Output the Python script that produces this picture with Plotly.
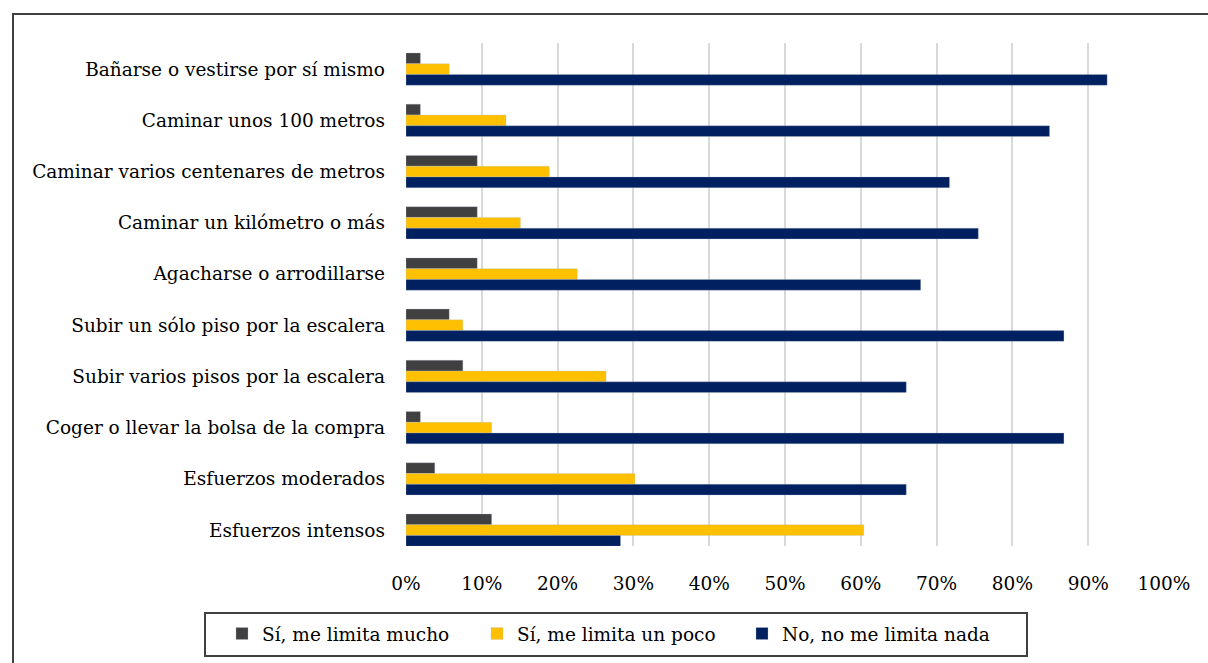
import plotly.graph_objects as go

categories = [
    "Bañarse o vestirse por sí mismo",
    "Caminar unos 100 metros",
    "Caminar varios centenares de metros",
    "Caminar un kilómetro o más",
    "Agacharse o arrodillarse",
    "Subir un sólo piso por la escalera",
    "Subir varios pisos por la escalera",
    "Coger o llevar la bolsa de la compra",
    "Esfuerzos moderados",
    "Esfuerzos intensos",
]
mucho = [1.9, 1.9, 9.4, 9.4, 9.4, 5.7, 7.5, 1.9, 3.8, 11.3]
poco = [5.7, 13.2, 18.9, 15.1, 22.6, 7.5, 26.4, 11.3, 30.2, 60.4]
nada = [92.5, 84.9, 71.7, 75.5, 67.9, 86.8, 66.0, 86.8, 66.0, 28.3]
series_names = ["Sí, me limita mucho", "Sí, me limita un poco", "No, no me limita nada"]
colors = ["#404040", "#FFC000", "#002060"]
x_ticks = [0, 10, 20, 30, 40, 50, 60, 70, 80, 90, 100]

FONT = "DejaVu Serif"
FS = 18.5

L, R, T, B = 406, 44, 43, 117
W, H = 1208, 663
pw = W - L - R
ph = H - T - B

def px_x(p):
    return (p - L) / pw

def px_y(p):
    return (H - B - p) / ph

legend_ids = ["legend2", "legend3", "legend4"]
legend_left_px = [222, 477, 742]

fig = go.Figure()
for name, vals, col, lid in zip(series_names, [mucho, poco, nada], colors, legend_ids):
    fig.add_trace(go.Bar(
        y=categories, x=vals, name=name, orientation="h", legend=lid,
        marker=dict(color=col, line=dict(color="rgba(180,190,210,0.6)", width=0.5)),
    ))

legend_common = dict(
    orientation="h", xanchor="left", y=px_y(634), yanchor="middle",
    borderwidth=0, bgcolor="rgba(0,0,0,0)",
    font=dict(family=FONT, size=FS, color="black"),
)

fig.update_layout(
    width=W, height=H,
    margin=dict(l=L, r=R, t=T, b=B, autoexpand=False),
    paper_bgcolor="white", plot_bgcolor="white",
    barmode="group", bargap=0.37, bargroupgap=0,
    font=dict(family=FONT, size=FS, color="black"),
    xaxis=dict(
        range=[0, 100], tickvals=x_ticks, ticktext=[f"{v}%" for v in x_ticks],
        showgrid=True, gridcolor="#D9D9D9", gridwidth=2,
        zeroline=False, showline=False, ticks="", ticklabelstandoff=24,
        tickfont=dict(family=FONT, size=FS, color="black"), automargin=False,
    ),
    yaxis=dict(
        range=[9.31, -0.51], showgrid=False, zeroline=False, showline=False,
        ticks="", ticklabelstandoff=20, automargin=False,
        tickfont=dict(family=FONT, size=FS, color="black"),
    ),
    legend2=dict(legend_common, x=px_x(legend_left_px[0])),
    legend3=dict(legend_common, x=px_x(legend_left_px[1])),
    legend4=dict(legend_common, x=px_x(legend_left_px[2])),
    shapes=[
        dict(type="rect", xref="paper", yref="paper",
             x0=px_x(13), x1=px_x(1220), y0=px_y(680), y1=px_y(14),
             line=dict(color="#404040", width=2), fillcolor="rgba(0,0,0,0)", layer="below"),
        dict(type="rect", xref="paper", yref="paper",
             x0=px_x(205), x1=px_x(1027), y0=px_y(656), y1=px_y(613),
             line=dict(color="#404040", width=2), fillcolor="white", layer="below"),
    ],
)

fig.write_html("out.html")
